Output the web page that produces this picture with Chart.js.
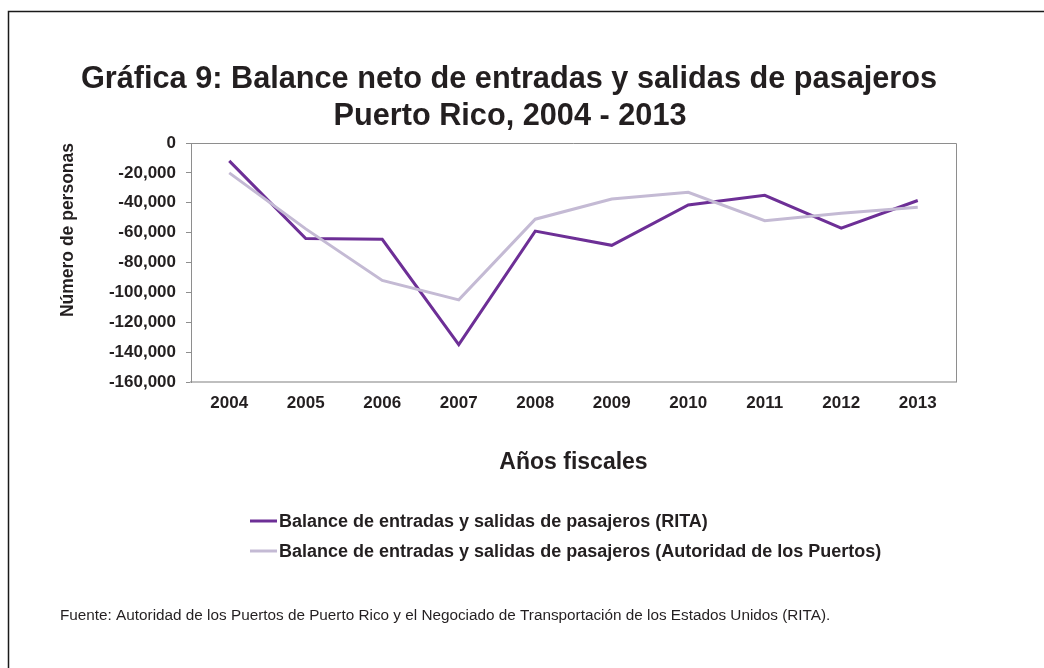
<!DOCTYPE html>
<html>
<head>
<meta charset="utf-8">
<script src="https://cdn.jsdelivr.net/npm/chart.js@4.4.0/dist/chart.umd.min.js"></script>
<style>
  html, body { margin: 0; padding: 0; background: #fff; }
  #wrap { width: 1044px; height: 668px; position: relative; }
</style>
</head>
<body>
<div id="wrap"><canvas id="chart" width="1044" height="668"></canvas></div>
<script>
// data
const years = ['2004', '2005', '2006', '2007', '2008', '2009', '2010', '2011', '2012', '2013'];
const ritaValues = [-12000, -64000, -64500, -135000, -59000, -68500, -41500, -35000, -57000, -38500];
const puertosValues = [-20000, -57500, -92000, -105000, -51000, -37500, -33000, -52000, -47000, -43000];
const seriesNames = [
  'Balance de entradas y salidas de pasajeros (RITA)',
  'Balance de entradas y salidas de pasajeros (Autoridad de los Puertos)'
];
const titleLines = ['Gráfica 9: Balance neto de entradas y salidas de pasajeros', 'Puerto Rico, 2004 - 2013'];
const yAxisTitle = 'Número de personas';
const xAxisTitle = 'Años fiscales';
const sourceNote = 'Fuente: Autoridad de los Puertos de Puerto Rico y el Negociado de Transportación de los Estados Unidos (RITA).';

const FONT = '"Liberation Sans", Arial, Helvetica, sans-serif';
const TEXT = '#231f20';

// titles, legend, footer and frame drawn around the chart
const decorations = {
  id: 'decorations',
  beforeDraw(chart) {
    const ctx = chart.ctx;
    ctx.save();
    ctx.fillStyle = '#fff';
    ctx.fillRect(0, 0, chart.width, chart.height);
    ctx.strokeStyle = '#1a1a1a';
    ctx.lineWidth = 1.5;
    ctx.beginPath();
    ctx.moveTo(8.5, chart.height);
    ctx.lineTo(8.5, 11.5);
    ctx.lineTo(chart.width, 11.5);
    ctx.stroke();
    ctx.restore();
  },
  afterDraw(chart) {
    const ctx = chart.ctx;
    const a = chart.chartArea;
    ctx.save();
    // plot frame (top + right)
    ctx.strokeStyle = '#8e8e8e';
    ctx.lineWidth = 1;
    ctx.beginPath();
    ctx.moveTo(a.left, a.top + 0.5);
    ctx.lineTo(a.right + 0.5, a.top + 0.5);
    ctx.lineTo(a.right + 0.5, a.bottom);
    ctx.stroke();

    // title
    ctx.fillStyle = TEXT;
    ctx.textAlign = 'center';
    ctx.textBaseline = 'alphabetic';
    ctx.font = 'bold 30.7px ' + FONT;
    ctx.fillText(titleLines[0], 509, 88);
    ctx.fillText(titleLines[1], 510, 125);

    // legend
    ctx.textAlign = 'left';
    ctx.textBaseline = 'middle';
    ctx.font = 'bold 18px ' + FONT;
    chart.data.datasets.forEach((ds, i) => {
      const y = 521 + i * 30;
      ctx.strokeStyle = ds.borderColor;
      ctx.lineWidth = 3;
      ctx.beginPath();
      ctx.moveTo(250, y);
      ctx.lineTo(277, y);
      ctx.stroke();
      ctx.fillStyle = TEXT;
      ctx.fillText(ds.label, 279, y + 1);
    });

    // source note
    ctx.font = '15.3px ' + FONT;
    ctx.textBaseline = 'alphabetic';
    ctx.fillText(sourceNote, 60, 620);
    ctx.restore();
  }
};

new Chart(document.getElementById('chart'), {
  type: 'line',
  data: {
    labels: years,
    datasets: [
      {
        label: seriesNames[0],
        data: ritaValues,
        borderColor: '#6d2f96',
        borderWidth: 3,
        pointRadius: 0,
        tension: 0,
        order: 1
      },
      {
        label: seriesNames[1],
        data: puertosValues,
        borderColor: '#c4bad4',
        borderWidth: 3,
        pointRadius: 0,
        tension: 0,
        order: 0
      }
    ]
  },
  options: {
    responsive: false,
    animation: false,
    layout: { padding: { top: 143, right: 88, bottom: 186, left: 50 } },
    plugins: {
      legend: { display: false },
      title: { display: false },
      tooltip: { enabled: false }
    },
    scales: {
      x: {
        offset: true,
        afterFit: s => { s.height = 100; },
        grid: { display: false, drawTicks: false, offset: true },
        border: { display: true, color: '#bfbfbf', width: 2 },
        ticks: { color: TEXT, padding: 11, font: { family: FONT, size: 17, weight: 'bold' } },
        title: {
          display: true,
          text: xAxisTitle,
          color: TEXT,
          padding: { top: 0, bottom: 6 },
          font: { family: FONT, size: 23, weight: 'bold' }
        }
      },
      y: {
        min: -160000,
        max: 0,
        afterFit: s => { s.width = 141; },
        grid: { drawOnChartArea: false, drawTicks: true, tickLength: 5, color: '#8e8e8e' },
        border: { display: true, color: '#8e8e8e', width: 1 },
        ticks: {
          stepSize: 20000,
          color: TEXT,
          padding: 10,
          font: { family: FONT, size: 17, weight: 'bold' },
          callback: v => v.toLocaleString('en-US')
        },
        title: {
          display: true,
          text: yAxisTitle,
          align: 'end',
          color: TEXT,
          padding: { top: 8, bottom: 0 },
          font: { family: FONT, size: 17.5, weight: 'bold' }
        }
      }
    }
  },
  plugins: [decorations]
});
</script>
</body>
</html>
